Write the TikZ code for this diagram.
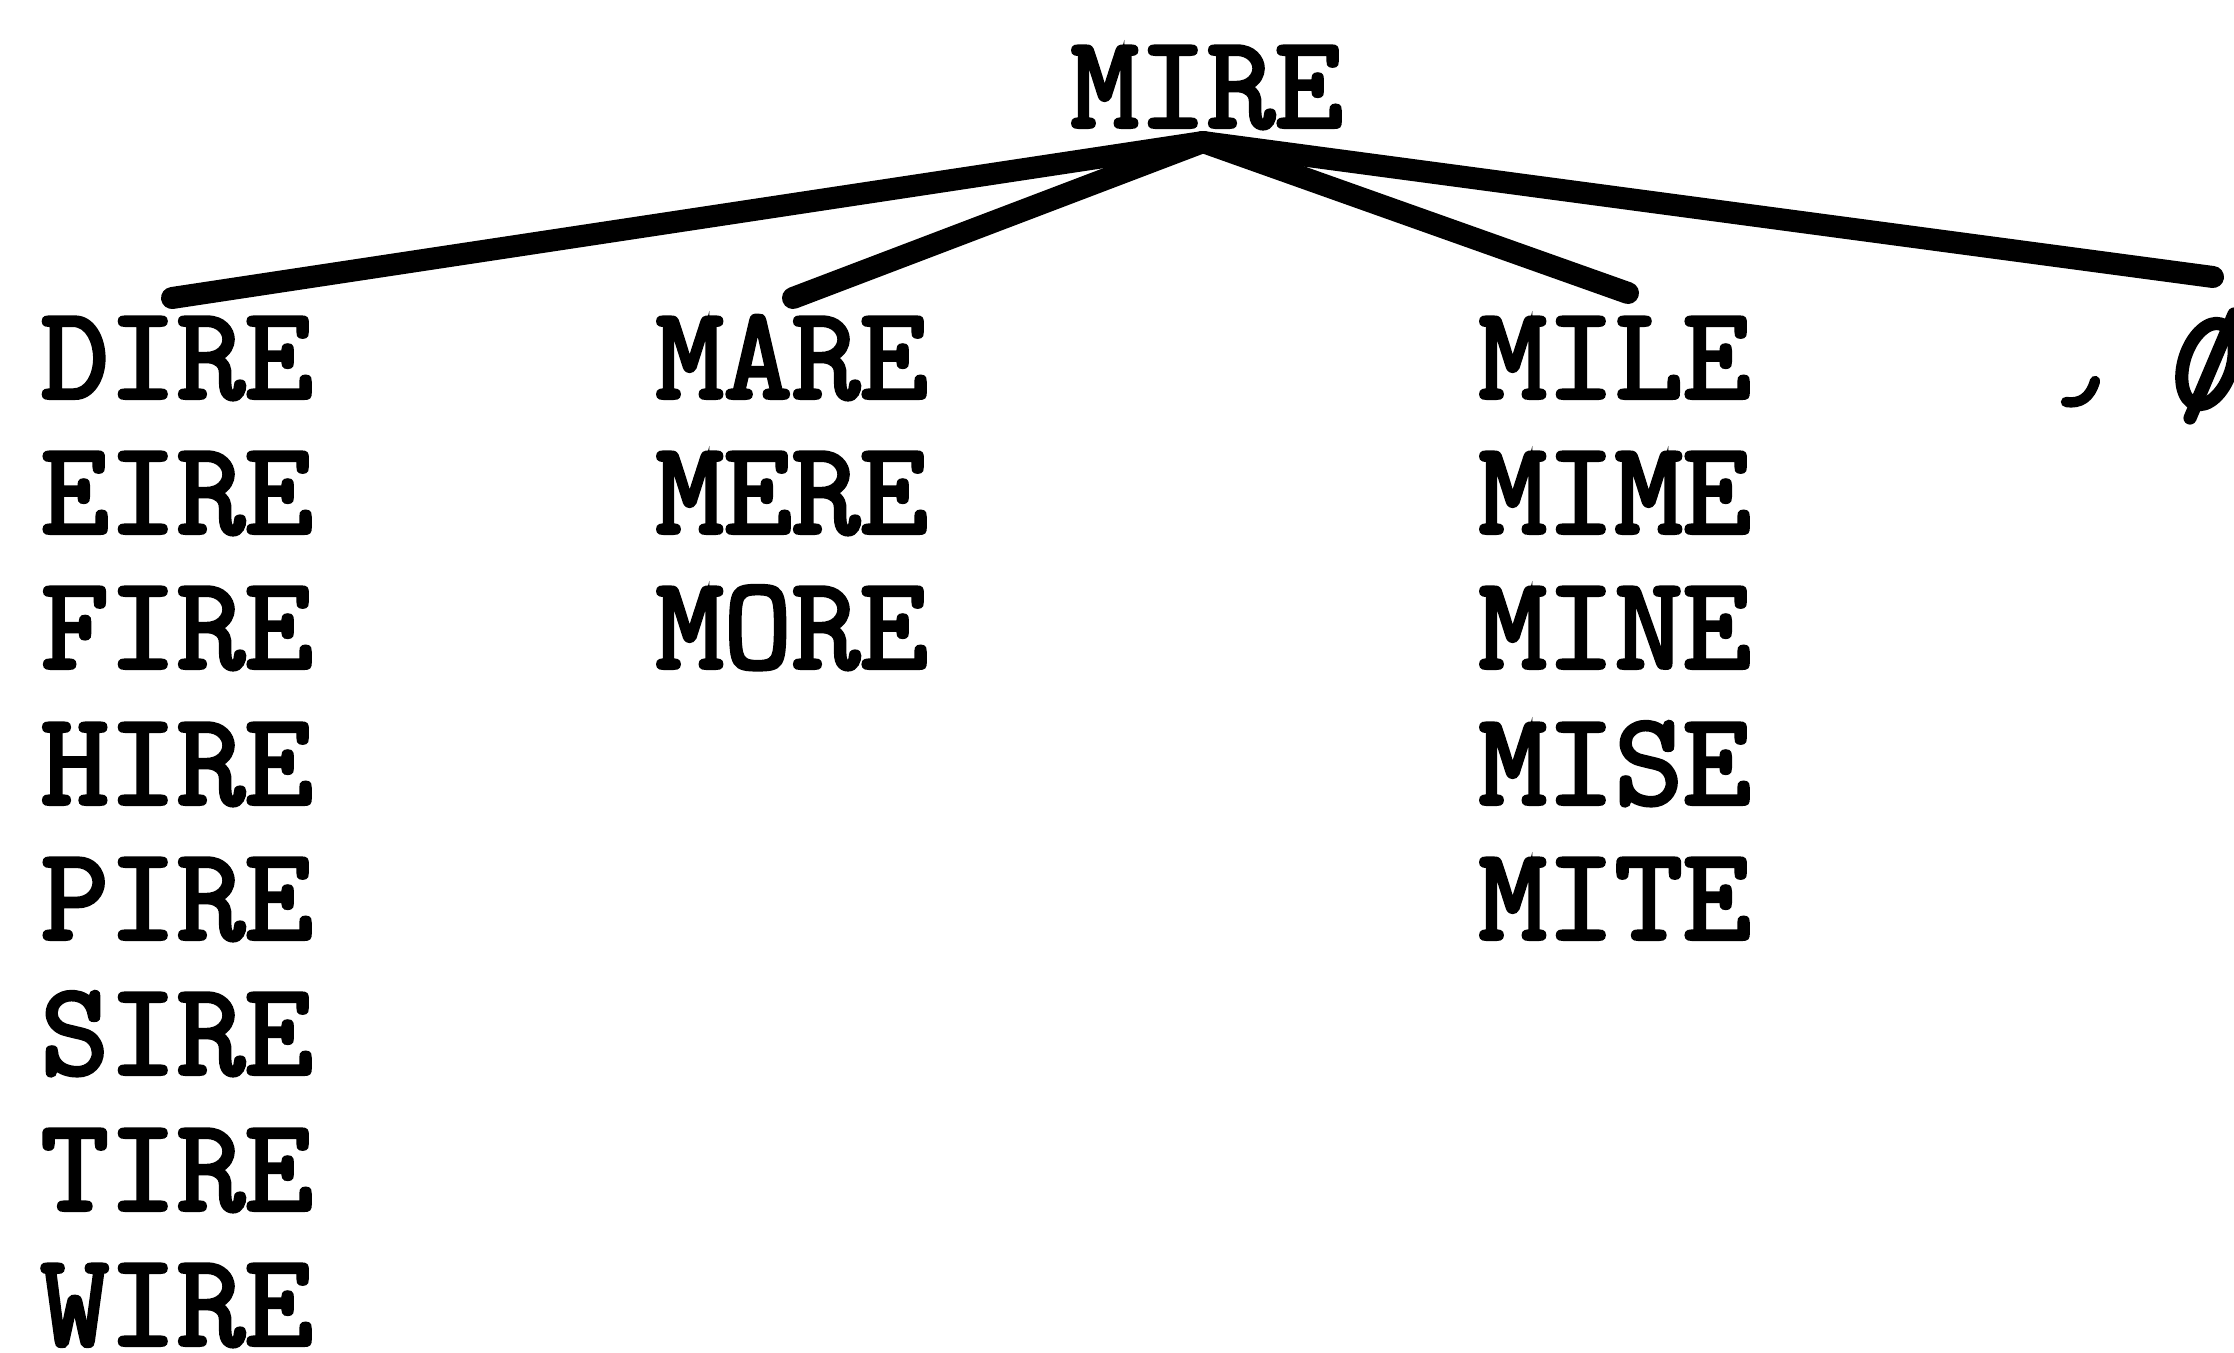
\documentclass[tikz,border=0pt]{standalone}
\usepackage{fontspec}
\newfontfamily\typewriter{Latin Modern Mono}[FakeBold=3]
\begin{document}
\begin{tikzpicture}[x=0.25pt,y=-0.25pt,
    word/.style={inner sep=0pt, anchor=base west, font=\typewriter\fontsize{33}{33}\selectfont},
    branch/.style={line width=5.5pt, line cap=round, line join=round},
    pen/.style={line cap=round, line join=round}]
  \useasboundingbox (0,0) rectangle (2234,1352);

  % root word
  \node[word] (mire) at (1070,127) {MIRE};

  % first column
  \node[word] (dire) at (40,398)  {DIRE};
  \node[word] (eire) at (40,533)  {EIRE};
  \node[word] (fire) at (40,668)  {FIRE};
  \node[word] (hire) at (40,804)  {HIRE};
  \node[word] (pire) at (40,939)  {PIRE};
  \node[word] (sire) at (40,1074) {SIRE};
  \node[word] (tire) at (40,1210) {TIRE};
  \node[word] (wire) at (40,1345) {WIRE};

  % second column
  \node[word] (mare) at (655,398) {MARE};
  \node[word] (mere) at (655,533) {MERE};
  \node[word] (more) at (655,668) {MORE};

  % third column
  \node[word] (mile) at (1478,398) {MILE};
  \node[word] (mime) at (1478,533) {MIME};
  \node[word] (mine) at (1478,668) {MINE};
  \node[word] (mise) at (1478,804) {MISE};
  \node[word] (mite) at (1478,939) {MITE};

  % branch points
  \coordinate (apex)   at (1203,142);
  \coordinate (tipA)   at (172,298);
  \coordinate (tipB)   at (793,298);
  \coordinate (tipC)   at (1628,293);
  \coordinate (tipD)   at (2213,277);

  \draw[branch] (apex) -- (tipA);
  \draw[branch] (apex) -- (tipB);
  \draw[branch] (apex) -- (tipC);
  \draw[branch] (apex) -- (tipD);

  % handwritten empty-set mark at the right edge
  \begin{scope}
    \clip (0,0) rectangle (2234,1352);
    \draw[pen, line width=2.6pt] (2095,381) .. controls (2090,398) and (2080,404) .. (2066,402);
    \draw[pen, line width=3.3pt, rotate around={-18:(2208,364)}] (2208,364) ellipse [x radius=24, y radius=42];
    \draw[pen, line width=3.3pt] (2190,418) -- (2234,314);
  \end{scope}
\end{tikzpicture}
\end{document}
